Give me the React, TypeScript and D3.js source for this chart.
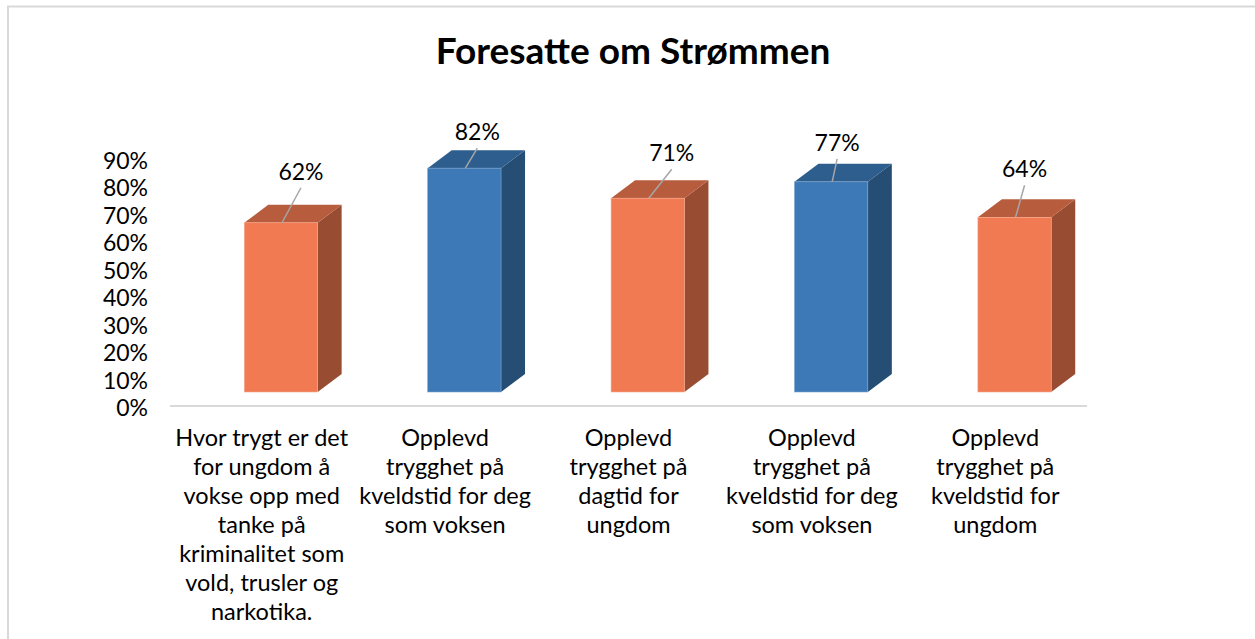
import React from "react";
import * as d3 from "d3";

const title = "Foresatte om Strømmen";
const categories: string[][] = [
  ["Hvor trygt er det", "for ungdom å", "vokse opp med", "tanke på", "kriminalitet som", "vold, trusler og", "narkotika."],
  ["Opplevd", "trygghet på", "kveldstid for deg", "som voksen"],
  ["Opplevd", "trygghet på", "dagtid for", "ungdom"],
  ["Opplevd", "trygghet på", "kveldstid for deg", "som voksen"],
  ["Opplevd", "trygghet på", "kveldstid for", "ungdom"],
];
const values = [0.62, 0.82, 0.71, 0.77, 0.64];
const colorGroup = ["orange", "blue", "orange", "blue", "orange"];
const yTicks = [0, 0.1, 0.2, 0.3, 0.4, 0.5, 0.6, 0.7, 0.8, 0.9];
// label offset (from bar front top-center)
const labelOffsets: [number, number][] = [[20, -51], [13, -36], [24, -45], [6, -39], [10, -48]];

const palette: Record<string, { front: string; top: string; side: string; edge: string }> = {
  orange: { front: "#F17A53", top: "#B85C3E", side: "#984C32", edge: "#F6A98E" },
  blue: { front: "#3D79B6", top: "#2D5E8D", side: "#264D73", edge: "#7FA6CF" },
};

const FONT = "Lato, 'Open Sans', sans-serif";

export default function App() {
  const W = 1255, H = 639;
  const x = d3.scaleBand<number>().domain(d3.range(categories.length)).range([170, 1087]);
  const y = d3.scaleLinear().domain([0, 1]).range([392, 119]);
  const yAxis = d3.scaleLinear().domain([0, 0.9]).range([408, 161]);
  const depthX = 24, depthY = -18;
  const bw = x.bandwidth() * 0.4;
  const fmt = d3.format(".0%");

  return (
    <svg width={W} height={H} style={{ position: "absolute", left: 0, top: 0, background: "#fff" }}>
      <rect x={8} y={6.5} width={W + 10} height={H + 10} fill="#fff" stroke="#D9D9D9" strokeWidth={2} />
      <text x={633} y={64} textAnchor="middle" fontFamily={FONT} fontWeight={700} fontSize={37} fill="#000">
        {title}
      </text>
      {yTicks.map((t) => (
        <text key={t} x={148} y={yAxis(t)} dy="0.35em" textAnchor="end" fontFamily={FONT} fontSize={23} fill="#000">
          {fmt(t)}
        </text>
      ))}
      <line x1={170} x2={1087} y1={406} y2={406} stroke="#D9D9D9" strokeWidth={2} />
      {values.map((v, i) => {
        const p = palette[colorGroup[i]];
        const x0 = (x(i) as number) + x.bandwidth() * 0.405;
        const x1 = x0 + bw;
        const yb = y(0);
        const yt = y(v);
        const top = `M${x0},${yt}L${x0 + depthX},${yt + depthY}L${x1 + depthX},${yt + depthY}L${x1},${yt}Z`;
        const side = `M${x1},${yt}L${x1 + depthX},${yt + depthY}L${x1 + depthX},${yb + depthY}L${x1},${yb}Z`;
        const cx = (x0 + x1) / 2;
        const [ldx, ldy] = labelOffsets[i];
        const lx = cx + ldx, ly = yt + ldy;
        return (
          <g key={i}>
            <path d={side} fill={p.side} />
            <path d={top} fill={p.top} />
            <rect x={x0} y={yt} width={bw} height={yb - yt} fill={p.front} stroke={p.edge} strokeWidth={0.6} />
            <line x1={lx} y1={ly + 16} x2={cx + 1} y2={yt} stroke="#A6A6A6" strokeWidth={1.5} />
            <text x={lx} y={ly} dy="0.35em" textAnchor="middle" fontFamily={FONT} fontSize={23} fill="#000">
              {fmt(v)}
            </text>
          </g>
        );
      })}
      {categories.map((lines, i) => (
        <text key={i} textAnchor="middle" fontFamily={FONT} fontSize={23.5} fill="#000">
          {lines.map((ln, j) => (
            <tspan key={j} x={(x(i) as number) + x.bandwidth() / 2} y={446 + j * 29}>
              {ln}
            </tspan>
          ))}
        </text>
      ))}
    </svg>
  );
}
